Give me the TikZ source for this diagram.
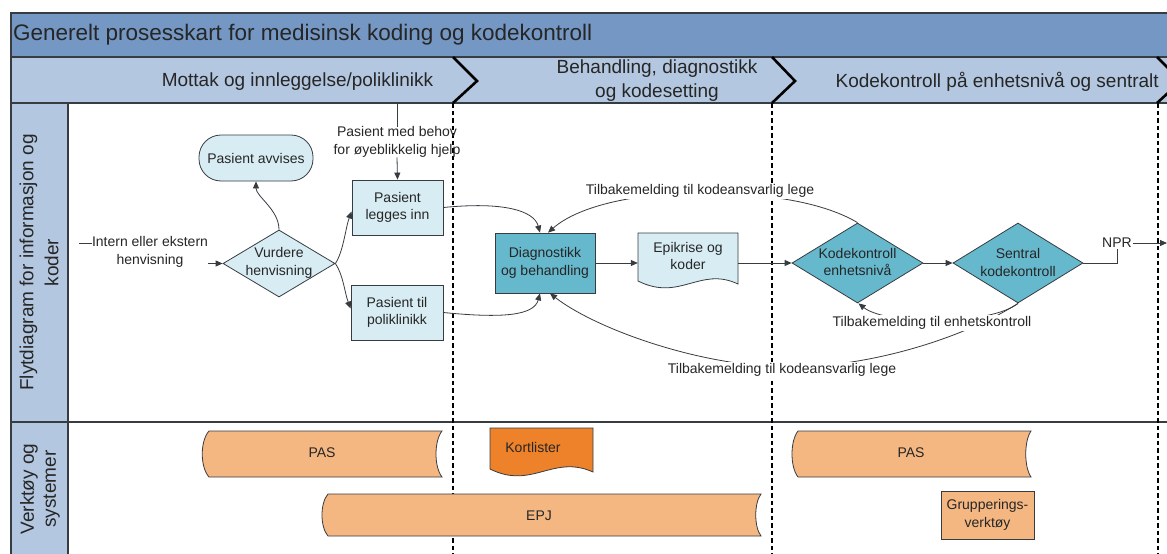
\documentclass[tikz,border=0pt]{standalone}
\usepackage{fontspec}
\setmainfont{Liberation Sans}
\usetikzlibrary{arrows.meta,shapes.geometric,calc}
\definecolor{titlebg}{RGB}{116,151,196}
\definecolor{phasebg}{RGB}{180,199,224}
\definecolor{lightc}{RGB}{216,237,243}
\definecolor{tealc}{RGB}{102,184,205}
\definecolor{lorange}{RGB}{245,183,130}
\definecolor{dorange}{RGB}{238,130,42}
\definecolor{bord}{RGB}{55,60,65}
\begin{document}
\begin{tikzpicture}[x=1pt,y=-1pt,
  base/.style={font=\fontsize{14}{17.5}\selectfont, align=center, inner sep=0pt, text=black!85},
  proc/.style={base, draw=bord, line width=0.8pt, rectangle},
  dia/.style={diamond, draw=bord, line width=0.8pt, inner sep=0pt},
  shp/.style={draw=bord, line width=0.8pt},
  lbl/.style={base, fill=white, inner sep=1pt},
  conn/.style={draw=bord, line width=0.8pt},
  arr/.style={conn, -{Triangle[length=7pt,width=6pt]}},
  dashline/.style={line width=2.6pt, dash pattern=on 4.5pt off 3pt, black},
  chev/.style={line width=2.6pt, black, line join=miter},
  big/.style={font=\fontsize{19}{24}\selectfont, align=center, inner sep=0pt, text=black!85}]
\path[use as bounding box] (0,0) rectangle (1167,554);
\clip (0,0) rectangle (1167,554);

% ---- backgrounds ----
\draw[fill=titlebg, draw=bord, line width=1.2pt] (11,13) rectangle (1180,57);
\draw[fill=phasebg, draw=bord, line width=1.2pt] (11,57) rectangle (1180,103);
\draw[fill=white, draw=bord, line width=1.2pt] (11,103) rectangle (1180,600);
\draw[fill=phasebg, draw=bord, line width=1.2pt] (11,103) rectangle (68,600);
\draw[draw=bord, line width=1.2pt] (11,422) -- (1180,422);

\node[anchor=west, font=\fontsize{22.5}{26}\selectfont, inner sep=0pt, text=black!85] (title) at (13,35) {Generelt prosesskart for medisinsk koding og kodekontroll};

\node[big] (ph1) at (297.5,82) {Mottak og innleggelse/poliklinikk};
\node[big] (ph2) at (657,81) {Behandling, diagnostikk\\og kodesetting};
\node[big, anchor=east] (ph3) at (1159,82) {Kodekontroll på enhetsnivå og sentralt};

\node[big, rotate=90, font=\fontsize{19}{25}\selectfont] (lane1) at (39,262.5) {Flytdiagram for informasjon og\\koder};
\node[big, rotate=90, font=\fontsize{19}{22}\selectfont] (lane2) at (40,489) {Verktøy og\\systemer};

% ---- phase separators ----
\draw[dashline] (453,103) -- (453,560);
\draw[dashline] (772,103) -- (772,560);
\draw[dashline] (1158,103) -- (1158,560);
\draw[chev] (453,57) -- (477,81) -- (453,103);
\draw[chev] (772,57) -- (795,81) -- (772,103);
\draw[chev] (1157,57) -- (1181,81) -- (1157,103);

% ---- flow nodes ----
\node[proc, fill=lightc, rounded corners=22pt, minimum width=114pt, minimum height=46pt] (avv) at (256,158) {Pasient avvises};
\node[dia, fill=lightc, minimum width=112pt, minimum height=67pt] (vurd) at (279,263.5) {};
\node[base] (vurdt) at (279,263) {Vurdere\\henvisning};
\node[proc, fill=lightc, minimum width=91pt, minimum height=55pt] (legg) at (397.5,207.5) {Pasient\\legges inn};
\node[proc, fill=lightc, minimum width=92pt, minimum height=55pt] (polik) at (397,312.5) {Pasient til\\poliklinikk};
\node[proc, fill=tealc, minimum width=100pt, minimum height=60pt] (diag) at (545,263) {Diagnostikk\\og behandling};

\draw[shp, fill=lightc] (638,233) -- (738,233) -- (738,284) .. controls (700,266) and (680,302) .. (638,281) -- cycle;
\node[base, minimum width=100pt, minimum height=50pt] (epi) at (688,256) {Epikrise og\\koder};

\node[dia, fill=tealc, minimum width=131pt, minimum height=80pt] (kk) at (857.5,263) {};
\node[base] (kkt) at (857.5,262) {Kodekontroll\\enhetsnivå};
\node[dia, fill=tealc, minimum width=130pt, minimum height=80pt] (sen) at (1018,263) {};
\node[base] (sent) at (1018,262.5) {Sentral\\kodekontroll};

% ---- inputs ----
\coordinate (inn) at (79,243);
\node[base] (intl) at (150,252) {Intern eller ekstern\\henvisning};
\draw[conn] (inn) -- (intl.west |- inn);
\draw[arr] (intl.east |- vurd.west) -- (vurd.west);

\coordinate (akin) at (397,103);
\node[base] (akutt) at (397,142) {Pasient med behov\\for øyeblikkelig hjelp};
\draw[conn] (akin) -- (akutt.north);
\draw[arr] (akutt.south) -- (legg.north);

% ---- flow connectors ----
\draw[arr] (vurd.north) .. controls +(0,-20) and +(0,15) .. (avv.south);
\draw[arr] (vurd.east) .. controls +(8,-12) and +(-6,16) .. ($(legg.west)+(0,4)$);
\draw[arr] (vurd.east) .. controls +(8,12) and +(-6,-16) .. ($(polik.west)+(0,-4)$);
\draw[arr] (legg.east) .. controls +(60,-6) and +(-6,-22) .. ($(diag.north)+(-5,0)$);
\draw[arr] (polik.east) .. controls +(60,6) and +(-6,22) .. ($(diag.south)+(-5,0)$);
\draw[arr] (diag.east) -- (diag.east -| epi.west);
\draw[arr] (epi.east |- kk.west) -- (kk.west);
\draw[arr] (kk.east) -- (sen.west);

% feedback loops
\coordinate (fb1c) at (700,193);
\coordinate (fb2c) at (790,367);
\draw[arr] (kk.north) .. controls +(-37,-22) and +(60,0) .. (fb1c) .. controls +(-60,0) and +(32,-28) .. ($(diag.north)+(3,0)$);
\draw[arr] (sen.south) .. controls +(-28,22) and +(28,22) .. ($(kk.south)+(1,0)$);
\draw[arr] (sen.south) .. controls +(-55,35) and +(80,0) .. (fb2c) .. controls +(-90,0) and +(45,35) .. ($(diag.south)+(5,0)$);
\node[lbl] (fb1) at (700,191) {Tilbakemelding til kodeansvarlig lege};
\node[lbl] (fb3) at (932,323) {Tilbakemelding til enhetskontroll};
\node[lbl] (fb2) at (782,370) {Tilbakemelding til kodeansvarlig lege};

% NPR
\node[lbl] (npr) at (1117,243) {NPR};
\coordinate (nprout) at (1167,243);
\draw[conn] (sen.east) -| (npr.south);
\draw[arr] (npr.east) -- (nprout);

% ---- tools lane ----
\draw[shp, fill=lorange] (209,431) -- (442,431) .. controls (434,441) and (434,467) .. (442,477) -- (209,477) .. controls (200,467) and (200,441) .. (209,431) -- cycle;
\node[base] (pas1) at (322,453) {PAS};
\draw[shp, fill=dorange] (490,428) -- (593,428) -- (593,472) .. controls (553,454) and (532,490) .. (490,469) -- cycle;
\node[base] (kort) at (533,447) {Kortlister};
\draw[shp, fill=lorange] (328,494) -- (761,494) .. controls (754,503) and (754,527) .. (761,536) -- (328,536) .. controls (320,527) and (320,503) .. (328,494) -- cycle;
\node[base] (epj) at (539,516) {EPJ};
\draw[shp, fill=lorange] (798,431) -- (1031,431) .. controls (1024,441) and (1024,467) .. (1031,477) -- (798,477) .. controls (790,467) and (790,441) .. (798,431) -- cycle;
\node[base] (pas2) at (911,453) {PAS};
\node[proc, fill=lorange, minimum width=93pt, minimum height=48pt] (grp) at (987.5,515) {Grupperings-\\verktøy};
\end{tikzpicture}
\end{document}
